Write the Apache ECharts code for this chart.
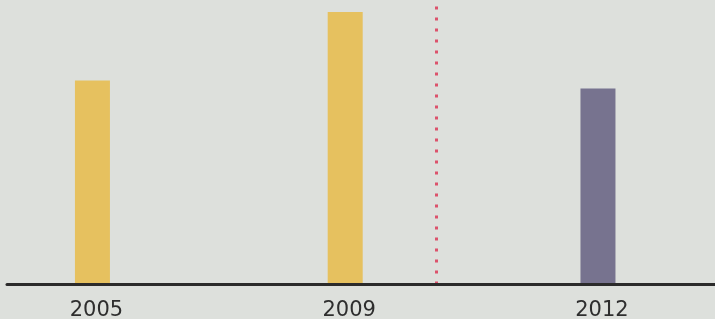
<!DOCTYPE html>
<html>
<head>
<meta charset="utf-8">
<script src="https://cdn.jsdelivr.net/npm/echarts@6/dist/echarts.min.js"></script>
<style>
  html, body { margin: 0; padding: 0; background: #dde0dc; }
  #chart { width: 715px; height: 319px; }
</style>
</head>
<body>
<div id="chart"></div>
<script>
// data (units unknown, 2009 bar ~ top of frame)
const years = ['2005', '2009', '2012'];
const values = [71.7, 95.8, 68.9];
const dividerAt = 1.363; // between 2009 and 2012

const barColors = ['#e6c15f', '#e6c15f', '#77738f'];

const chart = echarts.init(document.getElementById('chart'));

const option = {
    backgroundColor: '#dde0dc',
    animation: false,
    grid: { left: 7, right: 0, top: 0, bottom: 34.5, outerBoundsMode: 'none' },
    xAxis: {
        type: 'value',
        min: -0.338,
        max: 2.463,
        z: 5,
        splitLine: { show: false },
        axisTick: { show: false },
        axisLine: { show: true, lineStyle: { color: '#2b2b2b', width: 3 } },
        axisLabel: {
            customValues: [0, 1, 2],
            formatter: v => years[Math.round(v)],
            fontFamily: 'DejaVu Sans',
            fontSize: 21,
            color: '#2e2e2e',
            margin: 16,
            padding: [0, 0, 0, 8]
        }
    },
    yAxis: {
        type: 'value',
        min: 0,
        max: 100,
        show: false
    },
    series: [{
        type: 'bar',
        barWidth: 35,
        data: values.map((v, i) => ({
            value: [i, v],
            itemStyle: { color: barColors[i] }
        })),
        markLine: {
            silent: true,
            symbol: 'none',
            label: { show: false },
            lineStyle: { color: '#dc2f50', width: 3, type: [3, 8], opacity: 0.8 },
            data: [{ xAxis: dividerAt }]
        }
    }]
};

chart.setOption(option);
</script>
</body>
</html>
